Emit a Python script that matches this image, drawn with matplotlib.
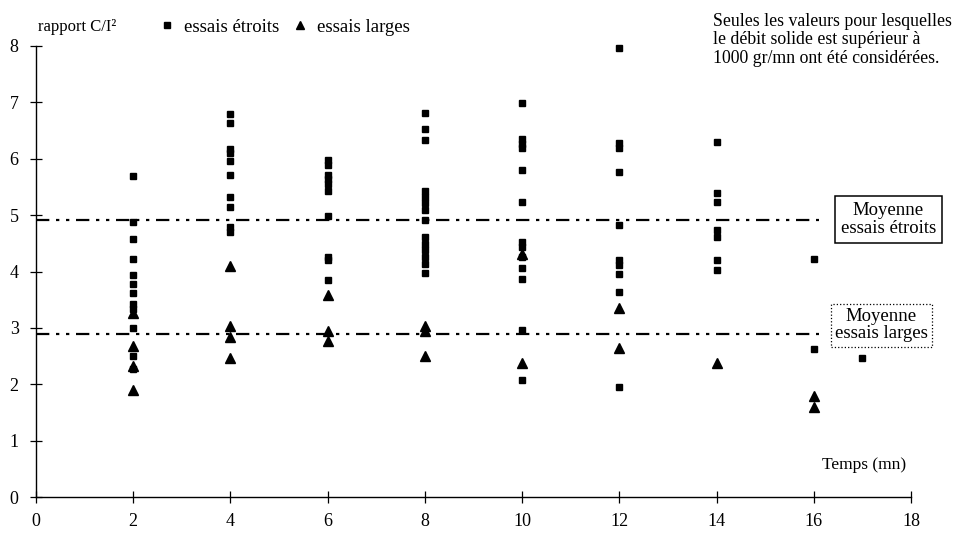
import matplotlib
matplotlib.use("Agg")
from matplotlib import pyplot as plt
from matplotlib.lines import Line2D

plt.rcParams['font.family'] = ['Liberation Serif', 'DejaVu Serif']

# valeurs (rapport C/I² en fonction du temps)
temps_etroits = [2, 4, 6, 8, 10, 12, 14, 16, 17]
etroits = [
    [5.70, 4.87, 4.57, 4.22, 3.94, 3.77, 3.61, 3.42, 3.33, 3.00, 2.50, 2.27],
    [6.79, 6.63, 6.18, 6.10, 5.96, 5.71, 5.32, 5.14, 4.79, 4.70],
    [5.97, 5.89, 5.71, 5.64, 5.55, 5.42, 4.98, 4.25, 4.20, 3.85],
    [6.82, 6.52, 6.34, 5.42, 5.33, 5.21, 5.09, 4.92, 4.61, 4.49, 4.38, 4.26, 4.14, 3.97],
    [6.99, 6.35, 6.27, 6.19, 5.80, 5.24, 4.52, 4.43, 4.26, 4.07, 3.86, 2.96, 2.08],
    [7.97, 6.28, 6.19, 5.76, 4.83, 4.21, 4.11, 3.95, 3.64, 1.96],
    [6.29, 5.39, 5.24, 4.73, 4.61, 4.21, 4.02],
    [4.23, 2.62],
    [2.47],
]
temps_larges = [2, 4, 6, 8, 10, 12, 14, 16]
larges = [
    [3.26, 2.68, 2.33, 1.90],
    [4.09, 3.04, 2.83, 2.47],
    [3.59, 2.95, 2.77],
    [3.04, 2.95, 2.50],
    [4.31, 2.38],
    [3.35, 2.65],
    [2.38],
    [1.79, 1.59],
]
moyenne_etroits = 4.92
moyenne_larges = 2.89
fin_moyennes = 16.1

fig = plt.figure(figsize=(9.63, 5.35), dpi=100)
ax = fig.add_axes([36 / 963, 38 / 535, 875 / 963, 451 / 535])

for t, vals in zip(temps_etroits, etroits):
    ax.plot([t] * len(vals), vals, 's', color='black', markersize=5, clip_on=False)
for t, vals in zip(temps_larges, larges):
    ax.plot([t] * len(vals), vals, '^', color='black', markersize=6.5, clip_on=False)

# lignes des moyennes
tiret = (0, (6, 3, 1.5, 3, 1.5, 3))
ax.plot([0, fin_moyennes], [moyenne_etroits] * 2, color='black', lw=1.6, linestyle=tiret)
ax.plot([0, fin_moyennes], [moyenne_larges] * 2, color='black', lw=1.6, linestyle=tiret)

ax.text(17.53, moyenne_etroits, 'Moyenne\nessais étroits', ha='center', va='center',
        fontsize=13.5, linespacing=1.05,
        bbox=dict(boxstyle='square,pad=0.32', fc='white', ec='black', lw=1.1))
ax.text(17.39, 3.05, 'Moyenne\nessais larges', ha='center', va='center',
        fontsize=13.5, linespacing=1.05,
        bbox=dict(boxstyle='square,pad=0.22', fc='white', ec='black', lw=0.9, ls=':'))

ax.set_xlim(0, 18)
ax.set_ylim(0, 8)
ax.set_xticks(range(0, 19, 2))
ax.set_yticks(range(0, 9))
ax.tick_params(direction='inout', length=9, width=0.9, labelsize=13, pad=8)
ax.tick_params(axis='x', pad=7)
for s in ['top', 'right']:
    ax.spines[s].set_visible(False)
for s in ['left', 'bottom']:
    ax.spines[s].set_linewidth(1.0)

ax.text(17.9, 0.57, 'Temps (mn)', ha='right', va='center', fontsize=12.5)

fig.text(38 / 963, 1 - 27 / 535, 'rapport C/I²', ha='left', va='center', fontsize=12)
handles = [
    Line2D([], [], marker='s', color='black', ls='none', markersize=4.5),
    Line2D([], [], marker='^', color='black', ls='none', markersize=6),
]
fig.legend(handles, ['essais étroits', 'essais larges'], ncol=2, frameon=False,
           loc='center left', bbox_to_anchor=(158 / 963, 1 - 27 / 535),
           fontsize=13.5, handlelength=1.0, handletextpad=0.4, columnspacing=0.6,
           borderaxespad=0, borderpad=0)

fig.text(713 / 963, 1 - 13 / 535,
         'Seules les valeurs pour lesquelles\nle débit solide est supérieur à\n1000 gr/mn ont été considérées.',
         ha='left', va='top', fontsize=12.8, linespacing=1.1)

fig.savefig('out.png', dpi=100)
